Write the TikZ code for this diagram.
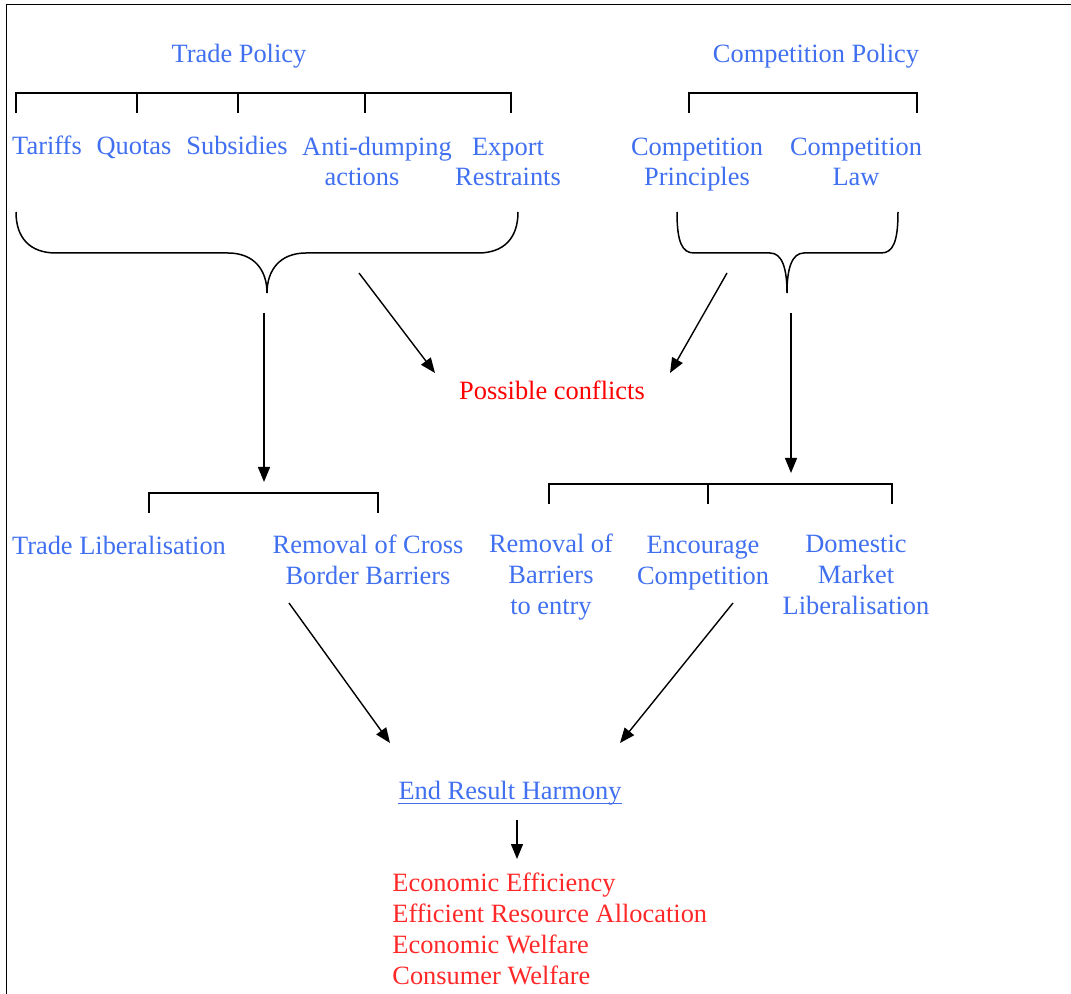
\documentclass[tikz,border=0pt]{standalone}
\usepackage{fontspec}
\setmainfont{Liberation Serif}
\usetikzlibrary{arrows.meta,calc,positioning}

\definecolor{polblue}{RGB}{64,112,240}
\definecolor{confred}{RGB}{255,0,0}
\definecolor{goalred}{RGB}{255,40,40}

\tikzset{
  lbl/.style={text=polblue, font=\fontsize{13.2}{15.4}\selectfont, inner sep=0pt, align=center, anchor=base},
  bracket/.style={line width=0.75pt},
  arr/.style={line width=0.7pt, -{Triangle[length=7.5pt,width=6pt]}},
}

\begin{document}
\begin{tikzpicture}[x=0.5pt,y=-0.5pt]
    \useasboundingbox (0,0) rectangle (1071,994);
    \draw[line width=0.5pt] (6,994) -- (6,5) -- (1071,5);     % frame, top and left edge

    % the two policies
    \node[lbl] (trade) at (239,63) {Trade Policy};
    \node[lbl] (comp) at (816,63) {Competition Policy};

    % trade policy instruments (base = last line)
    \draw[bracket] (16,113) -- (16,93) -- (511,93) -- (511,113);
    \foreach \x in {137,238,365}
        \draw[bracket] (\x,93) -- (\x,113);
    \node[lbl] (tariffs) at (47,155) {Tariffs};
    \node[lbl] (quotas) at (134,155) {Quotas};
    \node[lbl] (subsidies) at (237,155) {Subsidies};
    \node[lbl] (antidump) at (377,186) {Anti-dumping\\actions\hspace*{15pt}};
    \node[lbl] (export) at (508,186) {Export\\Restraints};

    % competition policy instruments
    \draw[bracket] (689,113) -- (689,93) -- (917,93) -- (917,113);
    \node[lbl] (cprinc) at (697,186) {Competition\\Principles};
    \node[lbl] (claw) at (856,186) {Competition\\Law};

    % braces
    \coordinate (tradetip) at (267,293);
    \draw[bracket] (16,212) .. controls (16,238) and (30,253) .. (56,253) -- (228,253)
        .. controls (254,253) and (267,270) .. (tradetip)
        .. controls (267,270) and (280,253) .. (306,253) -- (478,253)
        .. controls (504,253) and (518,238) .. (518,212);
    \coordinate (comptip) at (787,293);
    \draw[bracket] (677,212) .. controls (677,242) and (682,253) .. (694,253) -- (770,253)
        .. controls (782,253) and (787,268) .. (comptip)
        .. controls (787,268) and (792,253) .. (804,253) -- (881,253)
        .. controls (893,253) and (898,242) .. (898,212);

    % possible conflicts
    \node[lbl, text=confred] (conflicts) at (552,400) {Possible conflicts};
    \coordinate (ta) at (359,273);
    \coordinate (tb) at (435,373);
    \coordinate (ca) at (727,273);
    \coordinate (cb) at (670,373);
    \draw[arr] (ta) -- (tb);
    \draw[arr] (ca) -- (cb);

    % down to the aims of each policy
    \coordinate (td) at (264,313);
    \coordinate (te) at (264,482);
    \coordinate (cd) at (791,313);
    \coordinate (ce) at (791,473);
    \draw[arr] (td) -- (te);
    \draw[arr] (cd) -- (ce);

    \draw[bracket] (149,513) -- (149,493) -- (378,493) -- (378,513);
    \node[lbl] (tradelib) at (119,554) {Trade Liberalisation};
    \node[lbl] (crossbord) at (368,584) {Removal of Cross\\Border Barriers};

    \draw[bracket] (549,504) -- (549,484) -- (892,484) -- (892,504);
    \draw[bracket] (708,484) -- (708,504);
    \node[lbl] (entry) at (551,614) {Removal of\\Barriers\\to entry};
    \node[lbl] (encourage) at (703,584) {Encourage\\Competition};
    \node[lbl] (domestic) at (856,614) {Domestic\\Market\\Liberalisation};

    % end result
    \node[lbl] (harmony) at (510,799) {End Result Harmony};
    \draw[polblue, line width=0.5pt] ([yshift=-2pt]harmony.base west) -- ([yshift=-2pt]harmony.base east);
    \coordinate (xa) at (289,603);
    \coordinate (xb) at (390,743);
    \coordinate (ya) at (733,603);
    \coordinate (yb) at (620,743);
    \draw[arr] (xa) -- (xb);
    \draw[arr] (ya) -- (yb);

    \coordinate (ha) at (517,820);
    \coordinate (hb) at (517,859);
    \draw[arr] (ha) -- (hb);
    \node[lbl, text=goalred, anchor=base west, align=left, font=\fontsize{13.2}{15.35}\selectfont] (goals) at (392,984)
        {Economic Efficiency\\Efficient Resource Allocation\\Economic Welfare\\Consumer Welfare};
\end{tikzpicture}
\end{document}
